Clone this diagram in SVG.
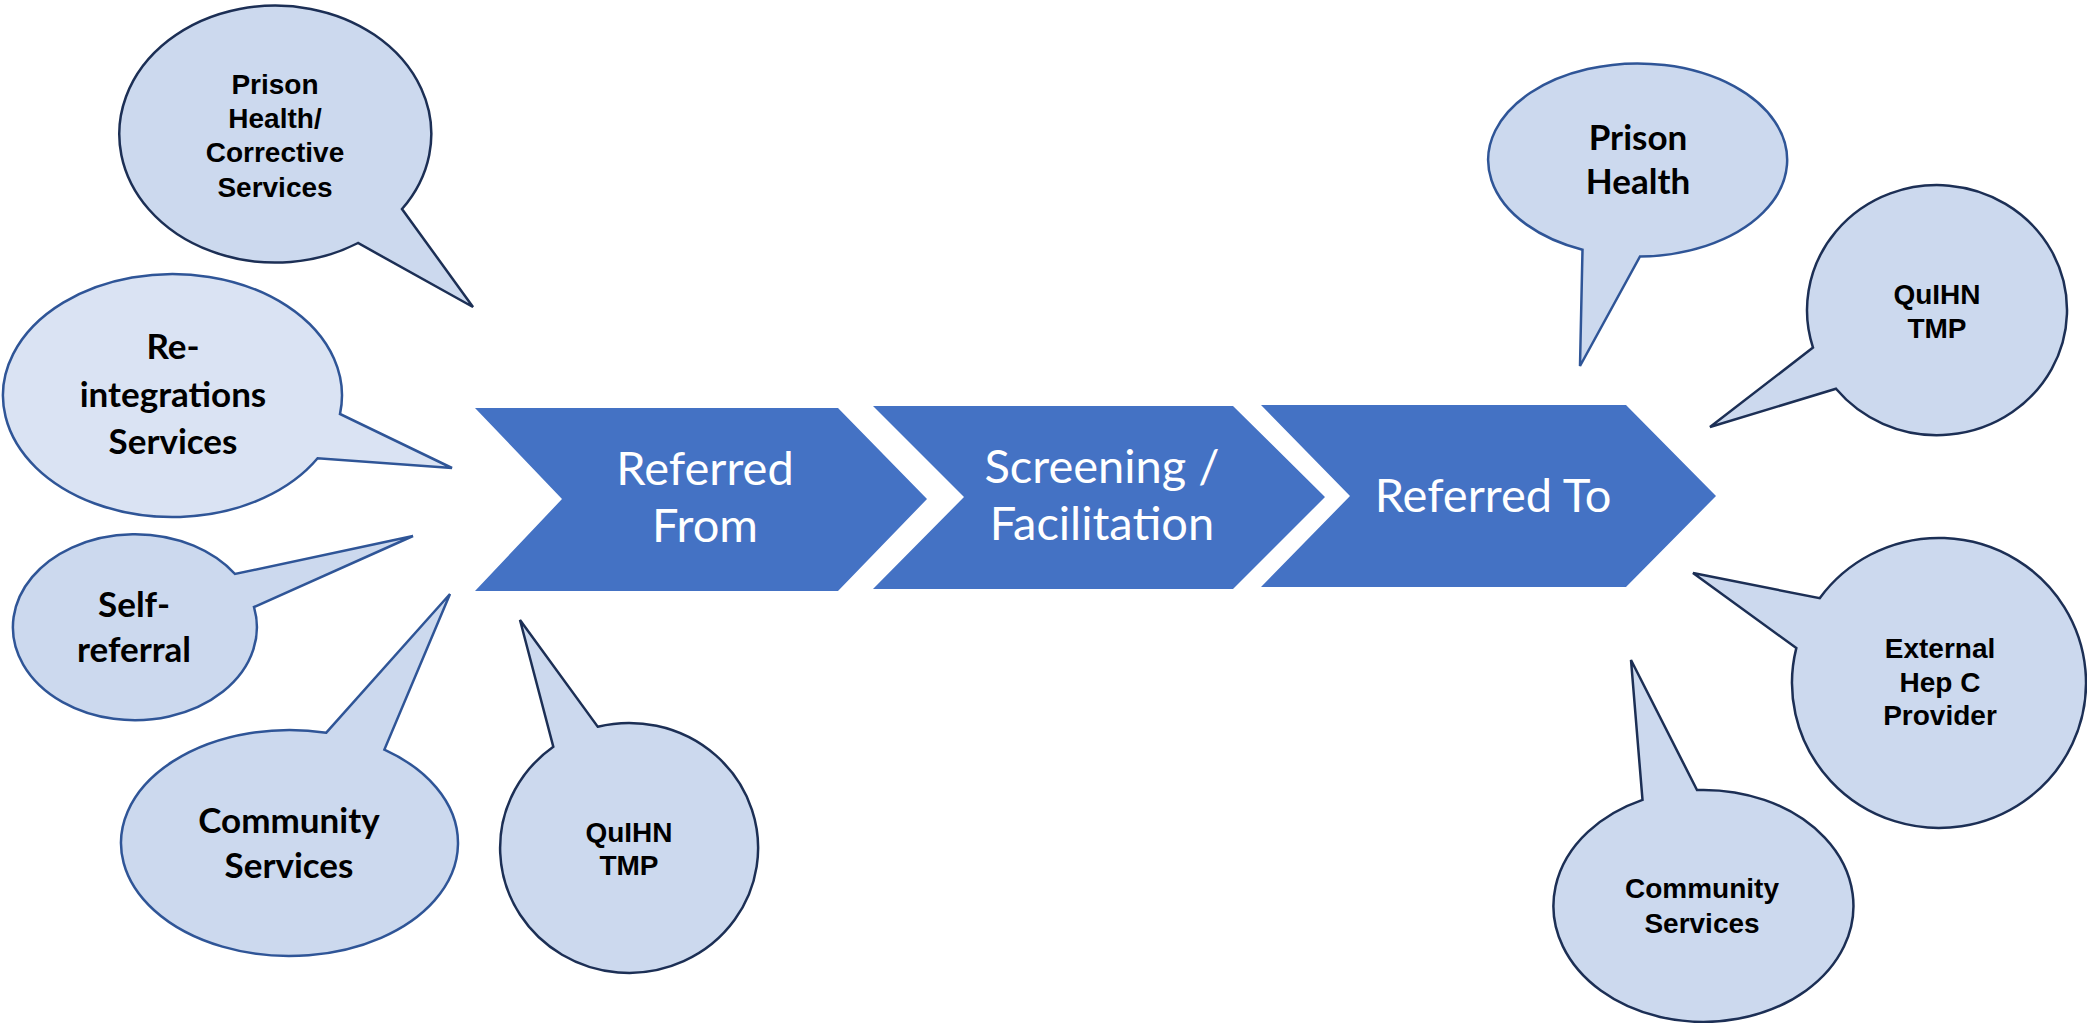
<svg xmlns="http://www.w3.org/2000/svg" width="2087" height="1023" viewBox="0 0 2087 1023">
<style>
.chev{fill:#4472c4;stroke:none}
.ct{fill:#ffffff;font-family:Lato,"Open Sans",sans-serif;font-size:47px;text-anchor:middle}
.b{fill:#ccd9ee;stroke-width:2.5;stroke-linejoin:miter}
.dk{stroke:#1c2f55}
.bl{stroke:#2f5597}
.lt{fill:#dae3f3}
.ta{font-family:"Liberation Sans",Arial,sans-serif;font-weight:bold;font-size:28px;text-anchor:middle;fill:#000}
.tc{font-family:Lato,"Liberation Sans",sans-serif;font-weight:bold;font-size:35px;text-anchor:middle;fill:#000}
</style>
<rect width="2087" height="1023" fill="#ffffff"/>
<g id="connectors"/>
<g id="chevron-referred-from">
<polygon class="chev" points="475,408 838,408 927,499 838,591 475,591 562,499"/>
<text class="ct" x="705" y="485">Referred</text>
<text class="ct" x="705" y="542">From</text>
</g>
<g id="chevron-screening">
<polygon class="chev" points="873,406 1233,406 1325,497 1233,589 873,589 964,497"/>
<text class="ct" x="1102" y="483">Screening /</text>
<text class="ct" x="1102" y="540">Facilitation</text>
</g>
<g id="chevron-referred-to">
<polygon class="chev" points="1261,405 1626,405 1716,496 1626,587 1261,587 1350,496"/>
<text class="ct" x="1493" y="512">Referred To</text>
</g>
<g id="bubble-prison-corrective">
<path class="b dk" d="M402,209 A156,128.5 0 1 0 358,243 L473,307 Z"/>
<text class="ta" x="275" y="94">Prison</text>
<text class="ta" x="275" y="128">Health/</text>
<text class="ta" x="275" y="162">Corrective</text>
<text class="ta" x="275" y="197">Services</text>
</g>
<g id="bubble-reintegration">
<path class="b bl lt" d="M340,414 A169.5,121.5 0 1 0 317.6,458.3 L452,468 Z"/>
<text class="tc" x="173" y="359">Re-</text>
<text class="tc" x="173" y="407">integrations</text>
<text class="tc" x="173" y="454">Services</text>
</g>
<g id="bubble-self-referral">
<path class="b bl" d="M235,574 A122,93 0 1 0 254,607 L413,536 Z"/>
<text class="tc" x="134" y="617">Self-</text>
<text class="tc" x="134" y="662">referral</text>
</g>
<g id="bubble-community-from">
<path class="b bl" d="M326.3,732.7 A168.5,113 0 1 0 384.4,749.6 L450,594 Z"/>
<text class="tc" x="289" y="833">Community</text>
<text class="tc" x="289" y="878">Services</text>
</g>
<g id="bubble-quihn-from">
<path class="b dk" d="M597.7,726.7 A129,125 0 1 1 553.3,746.8 L520,620 Z"/>
<text class="ta" x="629" y="842">QuIHN</text>
<text class="ta" x="629" y="875">TMP</text>
</g>
<g id="bubble-prison-health-to">
<path class="b bl" d="M1582.5,249.7 A149.5,96.5 0 1 1 1640,256.5 L1580,366 Z"/>
<text class="tc" x="1638" y="150">Prison</text>
<text class="tc" x="1638" y="194">Health</text>
</g>
<g id="bubble-quihn-to">
<path class="b dk" d="M1813,347.6 A130,125 0 1 1 1836,388.8 L1710,427 Z"/>
<text class="ta" x="1937" y="304">QuIHN</text>
<text class="ta" x="1937" y="338">TMP</text>
</g>
<g id="bubble-hepc-to">
<path class="b dk" d="M1819.7,598.2 A147,145 0 1 1 1796.3,648.1 L1693,573 Z"/>
<text class="ta" x="1940" y="658">External</text>
<text class="ta" x="1940" y="692">Hep C</text>
<text class="ta" x="1940" y="725">Provider</text>
</g>
<g id="bubble-community-to">
<path class="b dk" d="M1642.5,799.9 A150,116 0 1 0 1697,790 L1631,660 Z"/>
<text class="ta" x="1702" y="898">Community</text>
<text class="ta" x="1702" y="933">Services</text>
</g>
</svg>
